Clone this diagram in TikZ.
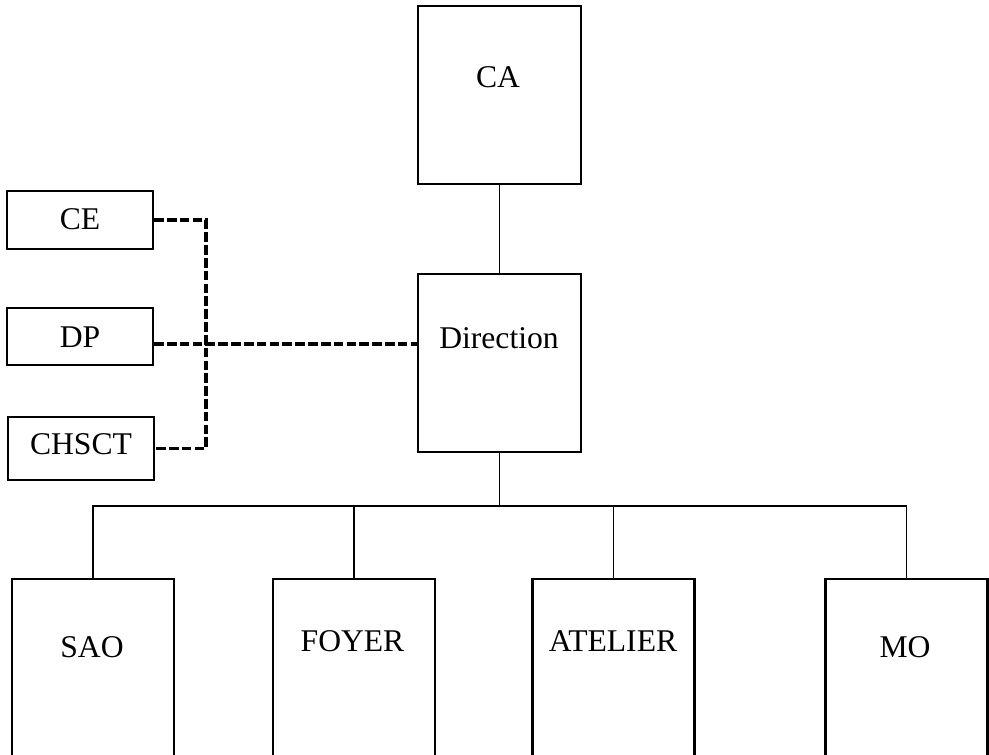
\documentclass[tikz,border=0pt]{standalone}
\usepackage{fontspec}
\setmainfont{Liberation Serif}

\begin{document}
\begin{tikzpicture}[x=0.02cm,y=-0.02cm,
    box/.style={draw,line width=1.3pt,inner sep=0pt},
    side/.style={box,minimum width=2.92cm},
    unit/.style={box,anchor=north,minimum width=3.24cm,minimum height=3.9cm},
    lbl/.style={font=\fontsize{18}{21}\selectfont,inner sep=0pt},
    link/.style={line width=1pt},
    rep/.style={line width=2pt,dash pattern=on 5.5pt off 1.8pt}]
  \useasboundingbox (0,0) rectangle (989,754);
  \draw
    (499.5,95) node[box,minimum width=3.26cm,minimum height=3.56cm] (ca){}
    (499.5,363) node[box,minimum width=3.26cm,minimum height=3.56cm] (dir){}
    (80,220) node[side,minimum height=1.16cm] (ce){}
    (80,336.5) node[side,minimum height=1.14cm] (dp){}
    (81,448.5) node[side,minimum height=1.26cm] (chsct){}
    (93,578) node[unit] (sao){}
    (354,578) node[unit] (foyer){}
    (613.5,578) node[unit] (atelier){}
    (906.5,578) node[unit] (mo){};
  \draw
    (498,77) node[lbl] (caT){CA}
    (499,338) node[lbl] (dirT){Direction}
    (80,219) node[lbl] (ceT){CE}
    (80,337) node[lbl] (dpT){DP}
    (81,444) node[lbl] (chsctT){CHSCT}
    (92,647) node[lbl] (saoT){SAO}
    (352.5,641) node[lbl] (foyerT){FOYER}
    (613,641) node[lbl] (atelierT){ATELIER}
    (905,647) node[lbl] (moT){MO};
  \begin{scope}[link]
    \draw (ca) -- (dir);
    \draw (dir.south) -- ++(0,53) coordinate (bus);
    \draw (bus) -| (sao.north);
    \draw (bus) -| (foyer.north);
    \draw (bus) -| (atelier.north);
    \draw (bus) -| (mo.north);
  \end{scope}
  \begin{scope}[rep]
    \coordinate (jn) at (206,344);
    \draw (ce.east) -| (jn) |- (chsct.east);
    \draw ([yshift=-0.15cm]dp.east) -- ([yshift=-0.15cm]dp.east -| dir.west);
  \end{scope}
\end{tikzpicture}
\end{document}
